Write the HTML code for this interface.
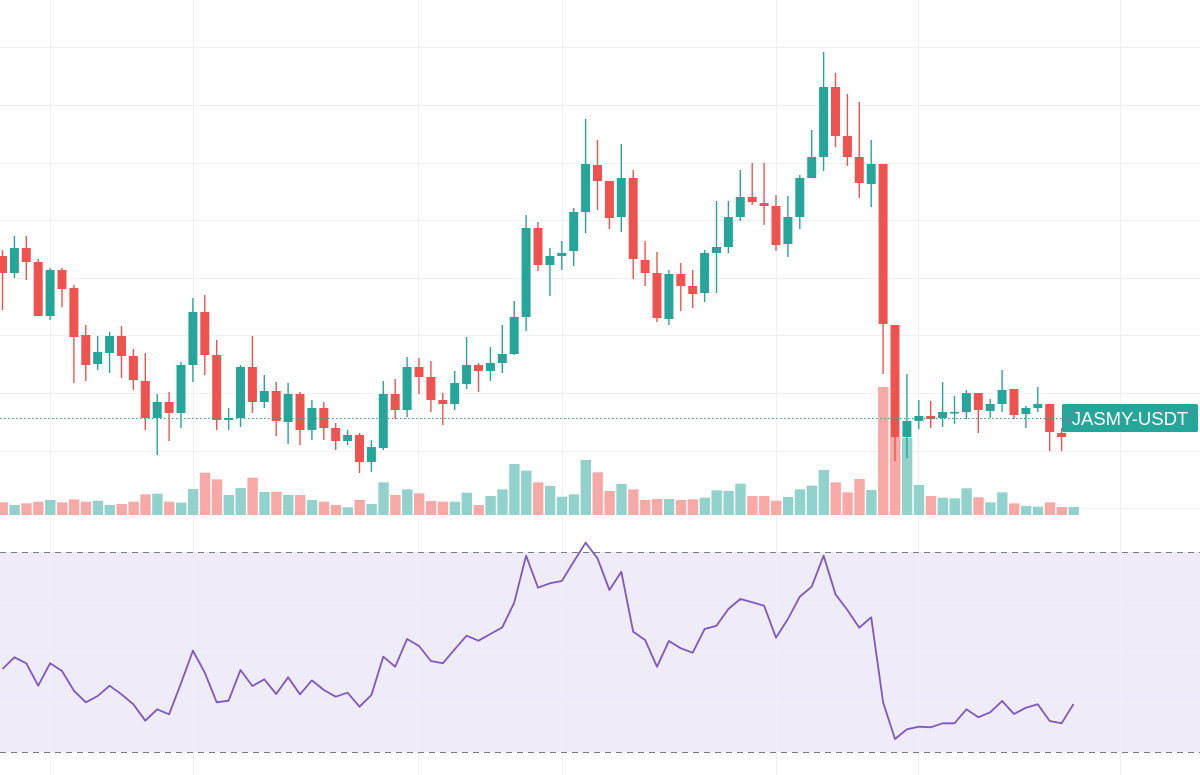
<!DOCTYPE html>
<html><head><meta charset="utf-8"><style>
html,body{margin:0;padding:0;background:#fff;width:1200px;height:775px;overflow:hidden}
svg{display:block}
</style></head><body>
<svg id="c" width="1200" height="775" xmlns="http://www.w3.org/2000/svg">
<rect x="0" y="552" width="1200" height="200" fill="#efebf8"/>
<g id="grid" stroke="#eef0f4" stroke-width="1"></g>
<g id="vol"></g>
<g id="cand"></g>
<line x1="0" y1="552.5" x2="1200" y2="552.5" stroke="#787b86" stroke-dasharray="6,5"/>
<line x1="0" y1="752.5" x2="1200" y2="752.5" stroke="#787b86" stroke-dasharray="6,5"/>
<polyline id="rsi" fill="none" stroke="#7e57c2" stroke-width="1.8" stroke-linejoin="round"/>
<line x1="0" y1="418.5" x2="1062" y2="418.5" stroke="#26a69a" stroke-dasharray="1.5,2.5"/>
<rect x="1062" y="404" width="136" height="28" rx="2" fill="#26a69a"/>
<text x="1130" y="425" fill="#fff" font-family="Liberation Sans, sans-serif" font-size="18.5" text-anchor="middle">JASMY-USDT</text>
</svg>
<script>
const NS="http://www.w3.org/2000/svg";
function el(p,t,a){const e=document.createElementNS(NS,t);for(const k in a)e.setAttribute(k,a[k]);p.appendChild(e);return e;}
const G=document.getElementById('grid');
[47,105,163,220,278,335,393,451,508,602,652,702].forEach(y=>el(G,'line',{x1:0,x2:1200,y1:y+.5,y2:y+.5}));
[50,193,418,562,776,918,1120].forEach(x=>el(G,'line',{x1:x+.5,x2:x+.5,y1:0,y2:775}));
// [o,c,h,l] (y pixels) ; green when c<o
const C=[
[273,256,250,310,'r'],[273,248,236,278,'g'],[248,262,236,280,'r'],[262,316,259,316,'r'],[316,270,268,320,'g'],
[270,289,268,307,'r'],[288,337,285,383,'r'],[335,365,325,381,'r'],[364,352,336,370,'g'],[353,336,332,373,'g'],
[336,356,326,378,'r'],[356,380,349,390,'r'],[381,418,353,430,'r'],[418,402,394,455,'g'],[402,413,392,441,'r'],
[413,365,362,428,'g'],[365,312,298,382,'g'],[312,355,295,375,'r'],[355,420,340,430,'r'],[420,418,408,430,'g'],
[418,367,365,427,'g'],[367,402,336,413,'r'],[402,391,375,408,'g'],[391,421,382,436,'r'],[422,394,383,444,'g'],
[394,430,392,445,'r'],[430,408,400,440,'g'],[408,428,402,440,'r'],[428,441,423,450,'r'],[441,435,430,445,'g'],
[435,462,433,473,'r'],[462,447,440,472,'g'],[448,394,381,450,'g'],[394,410,379,419,'r'],[410,367,357,417,'g'],
[367,377,358,394,'r'],[377,400,361,412,'r'],[400,404,393,425,'r'],[404,383,371,410,'g'],[384,365,337,389,'g'],
[365,371,363,392,'r'],[371,363,347,381,'g'],[363,354,325,373,'g'],[354,317,301,355,'g'],[317,228,215,331,'g'],
[228,265,222,271,'r'],[265,256,248,296,'g'],[256,253,241,270,'g'],[251,212,208,266,'g'],[212,164,119,233,'g'],
[165,181,140,210,'r'],[181,218,181,229,'r'],[217,178,144,232,'g'],[178,259,170,279,'r'],[260,273,241,286,'r'],
[273,318,252,322,'r'],[319,274,270,325,'g'],[274,286,263,311,'r'],[286,294,270,308,'r'],[293,253,250,302,'g'],
[253,247,201,293,'g'],[247,217,201,253,'g'],[217,197,170,221,'g'],[197,202,163,205,'r'],[203,206,163,225,'r'],
[206,245,195,251,'r'],[244,217,196,257,'g'],[217,178,175,229,'g'],[178,157,130,178,'g'],[157,87,52,171,'g'],
[87,136,73,147,'r'],[136,157,94,166,'r'],[157,183,102,198,'r'],[184,164,140,207,'g'],[164,324,164,374,'r'],
[325,437,325,461,'r'],[437,421,374,458,'g'],[421,416,400,429,'g'],[416,419,401,428,'r'],[418,412,382,427,'g'],
[413,412,396,424,'g'],[412,393,390,419,'g'],[393,410,393,433,'r'],[411,404,399,418,'g'],[404,390,370,412,'g'],
[389,415,389,419,'r'],[414,408,406,428,'g'],[408,404,387,412,'g'],[404,432,404,451,'r'],[433,437,428,451,'r'],
[418,414,410,424,'g']];
const V=[157,165,160,155,150,157,148,155,152,165,162,155,133,131,155,158,117,68,88,135,114,83,126,125,135,135,150,155,165,172,150,162,97,135,118,130,153,155,155,128,165,138,118,42,62,97,108,140,133,30,67,
123,102,118,150,147,147,150,148,143,121,123,101,138,138,152,141,118,107,60,97,127,87,120,null,null,null,105,138,143,145,115,142,157,127,160,168,170,157,171,171];
const R=[657,622,640,707,640,663,722,757,738,707,733,763,812,778,793,700,602,668,757,752,660,708,688,732,682,733,691,720,740,728,770,735,620,650,567,588,633,640,598,557,572,552,532,458,317,413,400,393,335,278,325,
420,365,545,570,650,573,595,608,537,527,477,447,457,467,563,507,440,410,317,433,480,533,502,757,867,838,830,832,820,820,778,802,787,753,792,773,763,813,820,762];
const X=i=>2.5+11.9*i;
const Cg=document.getElementById('cand'),Vg=document.getElementById('vol');
C.forEach((d,i)=>{
 const x=X(i),col=d[4]=='g'?'#26a69a':'#ef5350';
 let vt=V[i]; let vy=vt==null?null:450+vt/3;
 if(i==74)vy=387; if(i==75)vy=437; if(i==76)vy=438;
 el(Vg,'rect',{x:x-5,y:vy,width:10.4,height:515-vy,fill:d[4]=='g'?'#92d2cc':'#f7a9a7'});
 el(Cg,'line',{x1:x,x2:x,y1:d[2],y2:d[3],stroke:col,'stroke-width':1.4});
 const t=Math.min(d[0],d[1]),b=Math.max(d[0],d[1]);
 el(Cg,'rect',{x:x-4.5,y:t,width:9,height:Math.max(b-t,1.5),fill:col});
});
document.getElementById('rsi').setAttribute('points',R.map((z,i)=>X(i).toFixed(1)+','+(450+z/3).toFixed(1)).join(' '));
</script>
</body></html>
